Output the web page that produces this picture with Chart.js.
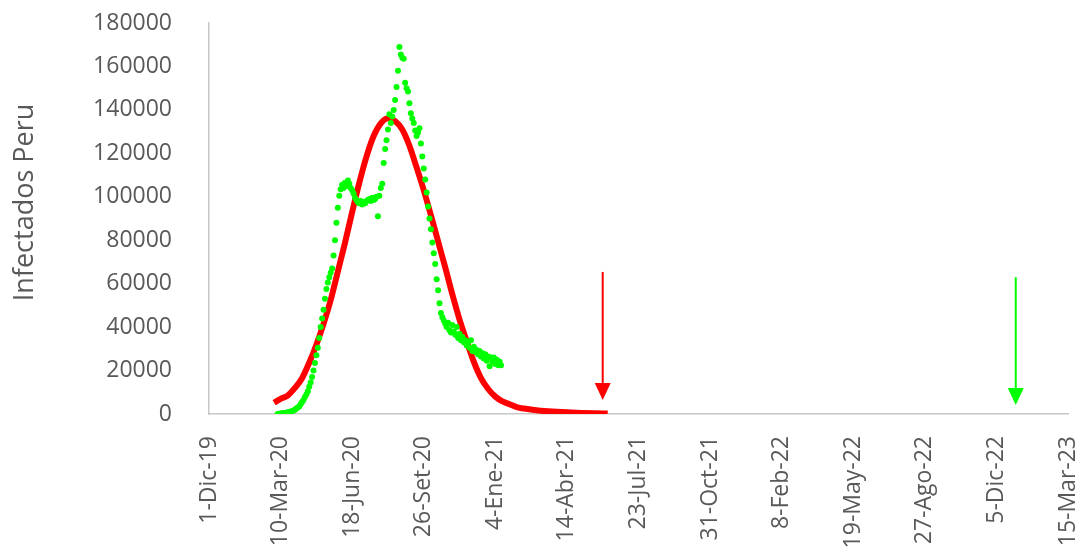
<!DOCTYPE html>
<html>
<head>
<meta charset="utf-8">
<script src="https://cdn.jsdelivr.net/npm/chart.js@4"></script>
<style>
  html, body { margin: 0; padding: 0; background: #ffffff; }
</style>
</head>
<body>
<canvas id="grafico" width="1085" height="558"></canvas>
<script>
// Etiquetas del eje X (fechas serie de Excel cada 100 días)
const etiquetasX = ['1-Dic-19', '10-Mar-20', '18-Jun-20', '26-Set-20', '4-Ene-21', '14-Abr-21',
    '23-Jul-21', '31-Oct-21', '8-Feb-22', '19-May-22', '27-Ago-22', '5-Dic-22', '15-Mar-23'];
const fechaMin = 43800;
const fechaMax = 45000;
const tituloY = 'Infectados Peru';

// Datos reales (puntos verdes), uno cada 2 días desde el 6-Mar-20
const inicioVerde = 43896;
const pasoVerde = 2;
const infectadosReales = [
    0, 100, 200, 300, 400, 500, 600, 800, 900, 1100,
    1300, 1600, 2000, 2500, 3000, 3500, 4500, 5500, 6500, 7800,
    9000, 10500, 12500, 14500, 17000, 20000, 23500, 27000, 30500, 35000,
    40000, 44000, 48000, 53000, 57500, 60500, 63000, 65000, 67000, 73000,
    80000, 88000, 95000, 100500, 103500, 105500, 104000, 106500, 105000, 107500,
    106000, 104000, 103000, 101500, 99500, 98500, 97500, 97000, 98000, 96500,
    97500, 97000, 98000, 98500, 99000, 98000, 99500, 98500, 99000, 100000,
    91000, 100500, 104000, 106000, 115500, 122000, 126000, 131000, 138000, 134000,
    137000, 140000, 144500, 150500, 158000, 169000, 165500, 164000, 163500, 152500,
    150000, 148500, 143000, 138500, 136000, 134000, 130500, 128000, 129500, 131500,
    124500, 118500, 113000, 108000, 102000, 95500, 90000, 85000, 79000, 74000,
    69000, 62000, 57000, 51000, 46500, 44500, 43000, 41500, 40000, 42000,
    38500, 37500, 41000, 38000, 36500, 40000, 35000, 37000, 34000, 35500,
    33000, 34000, 31500, 33000, 30500, 34000, 29000, 31000, 28500, 29500,
    27500, 29000, 26500, 28000, 25500, 27500, 24500, 26500, 22000, 26000,
    24000, 26000, 23000, 25000, 22500, 24000, 22500
];

// Curva del modelo (línea roja)
const fechasModelo = [43891, 43900, 43910, 43920, 43930, 43940, 43950, 43960, 43970, 43980,
    43990, 44000, 44010, 44020, 44030, 44040, 44050, 44060, 44070, 44080,
    44090, 44100, 44110, 44120, 44130, 44140, 44150, 44160, 44170, 44180,
    44190, 44200, 44210, 44220, 44230, 44240, 44260, 44280, 44300, 44320,
    44340, 44357];
const infectadosModelo = [5200, 7000, 8500, 12000, 16500, 23600, 31900, 41500, 52500, 65600,
    78800, 93000, 106500, 118500, 128000, 133800, 136100, 134800, 131000, 123500,
    113500, 103000, 91500, 79500, 67500, 55000, 43500, 33500, 24000, 16500,
    11500, 8000, 5800, 4500, 3200, 2500, 1600, 1100, 800, 500,
    300, 200];

// Flechas (fecha, valor inicial, valor final)
const flechasFecha = [44350, 44927];
const flechasDesde = [65400, 63000];
const flechasHasta = [6400, 4100];
const flechasColor = ['#ff0000', '#00ff00'];

const puntosVerdes = infectadosReales.map((v, i) => ({ x: inicioVerde + i * pasoVerde, y: v }));
const puntosRojos = fechasModelo.map((f, i) => ({ x: f, y: infectadosModelo[i] }));

// Plugin para dibujar las flechas usando las escalas
const pluginFlechas = {
    id: 'flechas',
    afterDatasetsDraw(chart) {
        const ctx = chart.ctx;
        const ex = chart.scales.x;
        const ey = chart.scales.y;
        flechasFecha.forEach((f, i) => {
            const px = ex.getPixelForValue(f);
            const y1 = ey.getPixelForValue(flechasDesde[i]);
            const y2 = ey.getPixelForValue(flechasHasta[i]);
            ctx.save();
            ctx.strokeStyle = flechasColor[i];
            ctx.fillStyle = flechasColor[i];
            ctx.lineWidth = 2;
            ctx.beginPath();
            ctx.moveTo(px, y1);
            ctx.lineTo(px, y2 - 14);
            ctx.stroke();
            ctx.beginPath();
            ctx.moveTo(px - 8, y2 - 17);
            ctx.lineTo(px + 8, y2 - 17);
            ctx.lineTo(px, y2);
            ctx.closePath();
            ctx.fill();
            ctx.restore();
        });
    }
};

// Plugin para el título del eje Y (un poco más arriba que el centro)
const pluginTituloY = {
    id: 'tituloY',
    afterDraw(chart) {
        const ctx = chart.ctx;
        const a = chart.chartArea;
        ctx.save();
        ctx.translate(25, (a.top + a.bottom) / 2 - 16);
        ctx.rotate(-Math.PI / 2);
        ctx.fillStyle = '#595959';
        ctx.font = '27px "Open Sans"';
        ctx.textAlign = 'center';
        ctx.textBaseline = 'middle';
        ctx.fillText(tituloY, 0, 0);
        ctx.restore();
    }
};

const ctx = document.getElementById('grafico').getContext('2d');
new Chart(ctx, {
    type: 'scatter',
    data: {
        datasets: [
            {
                label: 'Reales',
                data: puntosVerdes,
                backgroundColor: '#00ff00',
                borderWidth: 0,
                pointRadius: 3,
                order: 0
            },
            {
                label: 'Modelo',
                data: puntosRojos,
                showLine: true,
                borderColor: '#ff0000',
                borderWidth: 6,
                pointRadius: 0,
                cubicInterpolationMode: 'monotone',
                order: 1
            }
        ]
    },
    options: {
        responsive: false,
        devicePixelRatio: 1,
        animation: false,
        layout: { padding: { left: 0, right: 17, top: 23, bottom: 0 } },
        plugins: {
            legend: { display: false },
            tooltip: { enabled: false }
        },
        scales: {
            x: {
                type: 'linear',
                min: fechaMin,
                max: fechaMax,
                afterFit: (scale) => {
                    scale.height = 144;
                    scale.paddingLeft = 0;
                    scale.paddingRight = 0;
                },
                afterBuildTicks: (scale) => {
                    scale.ticks = etiquetasX.map((t, i) => ({ value: fechaMin + i * 100 }));
                },
                grid: { display: false },
                border: { display: true, color: '#c8c8c8', width: 1.5 },
                ticks: {
                    color: '#595959',
                    font: { family: 'Open Sans', size: 23 },
                    minRotation: 90,
                    maxRotation: 90,
                    padding: 14,
                    autoSkip: false,
                    callback: (v) => etiquetasX[Math.round((v - fechaMin) / 100)]
                }
            },
            y: {
                min: 0,
                max: 180000,
                afterFit: (scale) => {
                    scale.width = 209;
                    scale.paddingTop = 0;
                    scale.paddingBottom = 0;
                },
                grid: { display: false },
                border: { display: true, color: '#c8c8c8', width: 1.5 },
                ticks: {
                    stepSize: 20000,
                    color: '#595959',
                    font: { family: 'Open Sans', size: 23 },
                    padding: 29,
                    callback: (v) => String(v)
                }
            }
        }
    },
    plugins: [pluginFlechas, pluginTituloY]
});
</script>
</body>
</html>
